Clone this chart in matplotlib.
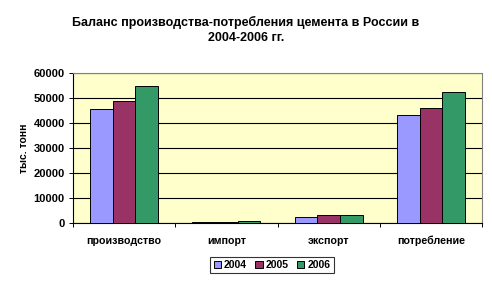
import matplotlib
matplotlib.use("Agg")
import matplotlib.pyplot as plt
import numpy as np

categories = ["производство", "импорт", "экспорт", "потребление"]
years = ["2004", "2005", "2006"]
v2004 = [45600, 250, 2300, 43200]
v2005 = [48700, 500, 3100, 46100]
v2006 = [54900, 900, 3350, 52300]
colors = ["#9999FF", "#993366", "#339966"]

plt.rcParams['font.family'] = ['Liberation Sans', 'DejaVu Sans']

fig = plt.figure(figsize=(4.92, 2.85), dpi=100)
ax = fig.add_axes([73/492, 1-223/285, 409/492, 150/285])
ax.set_facecolor("#FFFFCC")

x = np.arange(len(categories))
w = 0.222
for i, (vals, c, yr) in enumerate(zip([v2004, v2005, v2006], colors, years)):
    ax.bar(x + (i-1)*w, vals, width=w, color=c, edgecolor="black", linewidth=0.7, label=yr, zorder=3)

ax.set_xlim(-0.5, 3.5)
ax.set_ylim(0, 60000)
ax.set_yticks(np.arange(0, 60001, 10000))
ax.yaxis.grid(True, color="black", linewidth=0.8, zorder=1)
ax.set_axisbelow(True)
ax.tick_params(axis='y', labelsize=8, length=3, width=0.7, pad=3)
for lab in ax.get_yticklabels():
    lab.set_fontweight('bold')

ax.set_xticks(np.arange(-0.5, 3.6, 1.0))
ax.set_xticklabels([])
ax.set_xticks(x, minor=True)
ax.set_xticklabels(categories, minor=True, fontsize=7.7, fontweight='bold')
ax.tick_params(axis='x', which='major', length=3, width=0.7)
ax.tick_params(axis='x', which='minor', length=0, pad=9)

for s in ['top', 'right']:
    ax.spines[s].set_color("#808080")
    ax.spines[s].set_linewidth(0.8)
for s in ['left', 'bottom']:
    ax.spines[s].set_color("black")
    ax.spines[s].set_linewidth(0.8)

ax.set_ylabel("тыс. тонн", fontsize=7.5, fontweight='bold', labelpad=3)

fig.text(0.5, 1-30/285, "Баланс производства-потребления цемента в России в\n2004-2006 гг.",
         ha='center', va='center', fontsize=9, fontweight='bold', linespacing=1.25)

leg = fig.legend(loc='center', bbox_to_anchor=(272/492, 1-265/285), ncol=3,
                 fontsize=7.5, frameon=True, fancybox=False, edgecolor='black',
                 handlelength=0.7, handleheight=0.7, handletextpad=0.3,
                 columnspacing=0.8, borderpad=0.3, borderaxespad=0)
leg.get_frame().set_linewidth(0.8)
for t in leg.get_texts():
    t.set_fontweight('bold')

fig.savefig("out.png", dpi=100)
